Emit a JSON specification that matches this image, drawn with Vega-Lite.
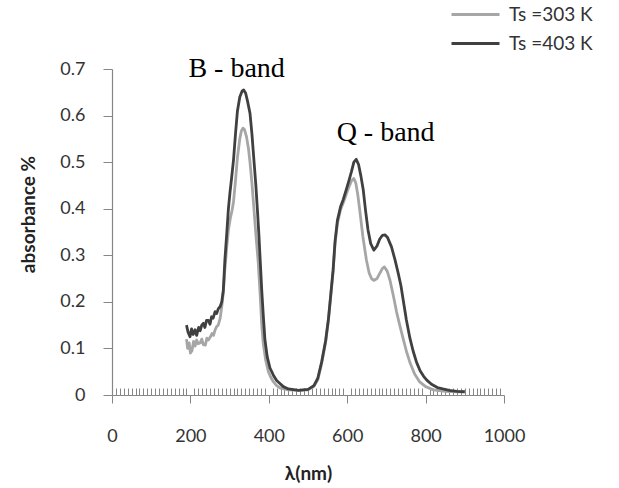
{
  "$schema": "https://vega.github.io/schema/vega-lite/v6.json",
  "width": 392,
  "height": 326,
  "autosize": {"type": "none"},
  "padding": {"left": 112, "top": 69, "right": 115, "bottom": 93},
  "background": "white",
  "config": {"view": {"stroke": null}, "font": "Lato"},
  "datasets": {
    "spectra": [
      {"s": "Ts =303 K", "wl": 190, "abs": 0.120},
      {"s": "Ts =303 K", "wl": 193, "abs": 0.100},
      {"s": "Ts =303 K", "wl": 197, "abs": 0.112},
      {"s": "Ts =303 K", "wl": 200, "abs": 0.090},
      {"s": "Ts =303 K", "wl": 204, "abs": 0.095},
      {"s": "Ts =303 K", "wl": 208, "abs": 0.115},
      {"s": "Ts =303 K", "wl": 212, "abs": 0.105},
      {"s": "Ts =303 K", "wl": 216, "abs": 0.118},
      {"s": "Ts =303 K", "wl": 220, "abs": 0.110},
      {"s": "Ts =303 K", "wl": 225, "abs": 0.112},
      {"s": "Ts =303 K", "wl": 229, "abs": 0.120},
      {"s": "Ts =303 K", "wl": 233, "abs": 0.108},
      {"s": "Ts =303 K", "wl": 238, "abs": 0.107},
      {"s": "Ts =303 K", "wl": 242, "abs": 0.122},
      {"s": "Ts =303 K", "wl": 246, "abs": 0.118},
      {"s": "Ts =303 K", "wl": 251, "abs": 0.125},
      {"s": "Ts =303 K", "wl": 255, "abs": 0.132},
      {"s": "Ts =303 K", "wl": 259, "abs": 0.128},
      {"s": "Ts =303 K", "wl": 263, "abs": 0.140},
      {"s": "Ts =303 K", "wl": 267, "abs": 0.147},
      {"s": "Ts =303 K", "wl": 271, "abs": 0.150},
      {"s": "Ts =303 K", "wl": 276, "abs": 0.165},
      {"s": "Ts =303 K", "wl": 280, "abs": 0.190},
      {"s": "Ts =303 K", "wl": 284, "abs": 0.220},
      {"s": "Ts =303 K", "wl": 288, "abs": 0.270},
      {"s": "Ts =303 K", "wl": 293, "abs": 0.320},
      {"s": "Ts =303 K", "wl": 297, "abs": 0.355},
      {"s": "Ts =303 K", "wl": 302, "abs": 0.380},
      {"s": "Ts =303 K", "wl": 306, "abs": 0.395},
      {"s": "Ts =303 K", "wl": 310, "abs": 0.415},
      {"s": "Ts =303 K", "wl": 315, "abs": 0.460},
      {"s": "Ts =303 K", "wl": 320, "abs": 0.510},
      {"s": "Ts =303 K", "wl": 326, "abs": 0.550},
      {"s": "Ts =303 K", "wl": 330, "abs": 0.567},
      {"s": "Ts =303 K", "wl": 334, "abs": 0.573},
      {"s": "Ts =303 K", "wl": 338, "abs": 0.570},
      {"s": "Ts =303 K", "wl": 343, "abs": 0.555},
      {"s": "Ts =303 K", "wl": 348, "abs": 0.530},
      {"s": "Ts =303 K", "wl": 352, "abs": 0.500},
      {"s": "Ts =303 K", "wl": 357, "abs": 0.455},
      {"s": "Ts =303 K", "wl": 362, "abs": 0.400},
      {"s": "Ts =303 K", "wl": 367, "abs": 0.345},
      {"s": "Ts =303 K", "wl": 373, "abs": 0.285},
      {"s": "Ts =303 K", "wl": 378, "abs": 0.215},
      {"s": "Ts =303 K", "wl": 382, "abs": 0.150},
      {"s": "Ts =303 K", "wl": 386, "abs": 0.110},
      {"s": "Ts =303 K", "wl": 392, "abs": 0.075},
      {"s": "Ts =303 K", "wl": 399, "abs": 0.050},
      {"s": "Ts =303 K", "wl": 405, "abs": 0.038},
      {"s": "Ts =303 K", "wl": 412, "abs": 0.028},
      {"s": "Ts =303 K", "wl": 420, "abs": 0.020},
      {"s": "Ts =303 K", "wl": 429, "abs": 0.015},
      {"s": "Ts =303 K", "wl": 450, "abs": 0.011},
      {"s": "Ts =303 K", "wl": 476, "abs": 0.010},
      {"s": "Ts =303 K", "wl": 500, "abs": 0.011},
      {"s": "Ts =303 K", "wl": 515, "abs": 0.018},
      {"s": "Ts =303 K", "wl": 525, "abs": 0.033},
      {"s": "Ts =303 K", "wl": 535, "abs": 0.068},
      {"s": "Ts =303 K", "wl": 545, "abs": 0.113},
      {"s": "Ts =303 K", "wl": 552, "abs": 0.160},
      {"s": "Ts =303 K", "wl": 558, "abs": 0.212},
      {"s": "Ts =303 K", "wl": 564, "abs": 0.265},
      {"s": "Ts =303 K", "wl": 569, "abs": 0.325},
      {"s": "Ts =303 K", "wl": 575, "abs": 0.368},
      {"s": "Ts =303 K", "wl": 583, "abs": 0.398},
      {"s": "Ts =303 K", "wl": 590, "abs": 0.413},
      {"s": "Ts =303 K", "wl": 598, "abs": 0.432},
      {"s": "Ts =303 K", "wl": 605, "abs": 0.448},
      {"s": "Ts =303 K", "wl": 611, "abs": 0.460},
      {"s": "Ts =303 K", "wl": 617, "abs": 0.465},
      {"s": "Ts =303 K", "wl": 622, "abs": 0.455},
      {"s": "Ts =303 K", "wl": 627, "abs": 0.430},
      {"s": "Ts =303 K", "wl": 632, "abs": 0.397},
      {"s": "Ts =303 K", "wl": 640, "abs": 0.340},
      {"s": "Ts =303 K", "wl": 649, "abs": 0.290},
      {"s": "Ts =303 K", "wl": 656, "abs": 0.262},
      {"s": "Ts =303 K", "wl": 662, "abs": 0.250},
      {"s": "Ts =303 K", "wl": 668, "abs": 0.246},
      {"s": "Ts =303 K", "wl": 676, "abs": 0.250},
      {"s": "Ts =303 K", "wl": 683, "abs": 0.261},
      {"s": "Ts =303 K", "wl": 690, "abs": 0.272},
      {"s": "Ts =303 K", "wl": 695, "abs": 0.275},
      {"s": "Ts =303 K", "wl": 702, "abs": 0.266},
      {"s": "Ts =303 K", "wl": 709, "abs": 0.247},
      {"s": "Ts =303 K", "wl": 718, "abs": 0.212},
      {"s": "Ts =303 K", "wl": 726, "abs": 0.178},
      {"s": "Ts =303 K", "wl": 734, "abs": 0.150},
      {"s": "Ts =303 K", "wl": 743, "abs": 0.120},
      {"s": "Ts =303 K", "wl": 751, "abs": 0.094},
      {"s": "Ts =303 K", "wl": 760, "abs": 0.070},
      {"s": "Ts =303 K", "wl": 772, "abs": 0.045},
      {"s": "Ts =303 K", "wl": 785, "abs": 0.028},
      {"s": "Ts =303 K", "wl": 800, "abs": 0.018},
      {"s": "Ts =303 K", "wl": 820, "abs": 0.011},
      {"s": "Ts =303 K", "wl": 850, "abs": 0.008},
      {"s": "Ts =303 K", "wl": 880, "abs": 0.007},
      {"s": "Ts =303 K", "wl": 900, "abs": 0.007},
      {"s": "Ts =403 K", "wl": 190, "abs": 0.150},
      {"s": "Ts =403 K", "wl": 194, "abs": 0.135},
      {"s": "Ts =403 K", "wl": 199, "abs": 0.125},
      {"s": "Ts =403 K", "wl": 203, "abs": 0.142},
      {"s": "Ts =403 K", "wl": 207, "abs": 0.130},
      {"s": "Ts =403 K", "wl": 212, "abs": 0.140},
      {"s": "Ts =403 K", "wl": 216, "abs": 0.128},
      {"s": "Ts =403 K", "wl": 221, "abs": 0.145},
      {"s": "Ts =403 K", "wl": 225, "abs": 0.138},
      {"s": "Ts =403 K", "wl": 229, "abs": 0.150},
      {"s": "Ts =403 K", "wl": 233, "abs": 0.154},
      {"s": "Ts =403 K", "wl": 237, "abs": 0.145},
      {"s": "Ts =403 K", "wl": 241, "abs": 0.160},
      {"s": "Ts =403 K", "wl": 246, "abs": 0.160},
      {"s": "Ts =403 K", "wl": 250, "abs": 0.152},
      {"s": "Ts =403 K", "wl": 254, "abs": 0.168},
      {"s": "Ts =403 K", "wl": 258, "abs": 0.165},
      {"s": "Ts =403 K", "wl": 263, "abs": 0.179},
      {"s": "Ts =403 K", "wl": 267, "abs": 0.175},
      {"s": "Ts =403 K", "wl": 271, "abs": 0.185},
      {"s": "Ts =403 K", "wl": 276, "abs": 0.190},
      {"s": "Ts =403 K", "wl": 280, "abs": 0.200},
      {"s": "Ts =403 K", "wl": 284, "abs": 0.225},
      {"s": "Ts =403 K", "wl": 288, "abs": 0.290},
      {"s": "Ts =403 K", "wl": 293, "abs": 0.350},
      {"s": "Ts =403 K", "wl": 297, "abs": 0.400},
      {"s": "Ts =403 K", "wl": 301, "abs": 0.435},
      {"s": "Ts =403 K", "wl": 305, "abs": 0.465},
      {"s": "Ts =403 K", "wl": 310, "abs": 0.505},
      {"s": "Ts =403 K", "wl": 315, "abs": 0.560},
      {"s": "Ts =403 K", "wl": 320, "abs": 0.610},
      {"s": "Ts =403 K", "wl": 326, "abs": 0.640},
      {"s": "Ts =403 K", "wl": 332, "abs": 0.653},
      {"s": "Ts =403 K", "wl": 336, "abs": 0.655},
      {"s": "Ts =403 K", "wl": 341, "abs": 0.648},
      {"s": "Ts =403 K", "wl": 346, "abs": 0.630},
      {"s": "Ts =403 K", "wl": 352, "abs": 0.605},
      {"s": "Ts =403 K", "wl": 357, "abs": 0.560},
      {"s": "Ts =403 K", "wl": 362, "abs": 0.505},
      {"s": "Ts =403 K", "wl": 367, "abs": 0.450},
      {"s": "Ts =403 K", "wl": 371, "abs": 0.397},
      {"s": "Ts =403 K", "wl": 375, "abs": 0.340},
      {"s": "Ts =403 K", "wl": 378, "abs": 0.290},
      {"s": "Ts =403 K", "wl": 382, "abs": 0.225},
      {"s": "Ts =403 K", "wl": 386, "abs": 0.170},
      {"s": "Ts =403 K", "wl": 390, "abs": 0.120},
      {"s": "Ts =403 K", "wl": 396, "abs": 0.082},
      {"s": "Ts =403 K", "wl": 403, "abs": 0.058},
      {"s": "Ts =403 K", "wl": 412, "abs": 0.042},
      {"s": "Ts =403 K", "wl": 420, "abs": 0.031},
      {"s": "Ts =403 K", "wl": 437, "abs": 0.018},
      {"s": "Ts =403 K", "wl": 450, "abs": 0.013},
      {"s": "Ts =403 K", "wl": 476, "abs": 0.010},
      {"s": "Ts =403 K", "wl": 500, "abs": 0.012},
      {"s": "Ts =403 K", "wl": 515, "abs": 0.020},
      {"s": "Ts =403 K", "wl": 525, "abs": 0.036},
      {"s": "Ts =403 K", "wl": 535, "abs": 0.072},
      {"s": "Ts =403 K", "wl": 545, "abs": 0.117},
      {"s": "Ts =403 K", "wl": 552, "abs": 0.162},
      {"s": "Ts =403 K", "wl": 558, "abs": 0.215},
      {"s": "Ts =403 K", "wl": 564, "abs": 0.268},
      {"s": "Ts =403 K", "wl": 569, "abs": 0.330},
      {"s": "Ts =403 K", "wl": 575, "abs": 0.375},
      {"s": "Ts =403 K", "wl": 583, "abs": 0.404},
      {"s": "Ts =403 K", "wl": 590, "abs": 0.420},
      {"s": "Ts =403 K", "wl": 598, "abs": 0.442},
      {"s": "Ts =403 K", "wl": 605, "abs": 0.462},
      {"s": "Ts =403 K", "wl": 611, "abs": 0.480},
      {"s": "Ts =403 K", "wl": 617, "abs": 0.500},
      {"s": "Ts =403 K", "wl": 623, "abs": 0.506},
      {"s": "Ts =403 K", "wl": 629, "abs": 0.495},
      {"s": "Ts =403 K", "wl": 635, "abs": 0.470},
      {"s": "Ts =403 K", "wl": 641, "abs": 0.440},
      {"s": "Ts =403 K", "wl": 647, "abs": 0.395},
      {"s": "Ts =403 K", "wl": 653, "abs": 0.355},
      {"s": "Ts =403 K", "wl": 660, "abs": 0.325},
      {"s": "Ts =403 K", "wl": 668, "abs": 0.311},
      {"s": "Ts =403 K", "wl": 676, "abs": 0.320},
      {"s": "Ts =403 K", "wl": 683, "abs": 0.335},
      {"s": "Ts =403 K", "wl": 690, "abs": 0.343},
      {"s": "Ts =403 K", "wl": 696, "abs": 0.344},
      {"s": "Ts =403 K", "wl": 703, "abs": 0.338},
      {"s": "Ts =403 K", "wl": 713, "abs": 0.318},
      {"s": "Ts =403 K", "wl": 722, "abs": 0.290},
      {"s": "Ts =403 K", "wl": 730, "abs": 0.262},
      {"s": "Ts =403 K", "wl": 737, "abs": 0.235},
      {"s": "Ts =403 K", "wl": 744, "abs": 0.198},
      {"s": "Ts =403 K", "wl": 751, "abs": 0.161},
      {"s": "Ts =403 K", "wl": 760, "abs": 0.122},
      {"s": "Ts =403 K", "wl": 768, "abs": 0.095},
      {"s": "Ts =403 K", "wl": 777, "abs": 0.070},
      {"s": "Ts =403 K", "wl": 786, "abs": 0.052},
      {"s": "Ts =403 K", "wl": 795, "abs": 0.040},
      {"s": "Ts =403 K", "wl": 803, "abs": 0.032},
      {"s": "Ts =403 K", "wl": 815, "abs": 0.023},
      {"s": "Ts =403 K", "wl": 830, "abs": 0.016},
      {"s": "Ts =403 K", "wl": 844, "abs": 0.013},
      {"s": "Ts =403 K", "wl": 860, "abs": 0.010},
      {"s": "Ts =403 K", "wl": 880, "abs": 0.008},
      {"s": "Ts =403 K", "wl": 900, "abs": 0.007}
    ],
    "labels": [
      {"label": "B - band", "wl": 318, "abs": 0.70},
      {"label": "Q - band", "wl": 698, "abs": 0.563}
    ]
  },
  "layer": [
    {
      "data": {"name": "spectra"},
      "mark": {"type": "line", "strokeWidth": 2.8, "strokeJoin": "round"},
      "encoding": {
        "x": {
          "field": "wl",
          "type": "quantitative",
          "scale": {"domain": [0, 1000], "nice": false},
          "axis": {
            "title": "λ(nm)",
            "titleFont": "Lato",
            "titleFontSize": 19,
            "titleFontWeight": "bold",
            "titleColor": "#222222",
            "titlePadding": 19,
            "grid": false,
            "tickCount": 100,
            "format": "d",
            "labelExpr": "datum.value % 200 === 0 ? datum.label : ''",
            "labelOverlap": false,
            "labelFlush": false,
            "labelFont": "Lato",
            "labelFontSize": 18,
            "labelColor": "#333333",
            "labelPadding": 24,
            "tickSize": {"condition": {"test": "datum.value % 200 === 0", "value": 8}, "value": -7},
            "tickColor": "#868686",
            "tickWidth": 1,
            "domainColor": "#868686",
            "domainWidth": 1.2
          }
        },
        "y": {
          "field": "abs",
          "type": "quantitative",
          "scale": {"domain": [0, 0.7], "nice": false},
          "axis": {
            "title": "absorbance %",
            "titleFont": "Lato",
            "titleFontSize": 19,
            "titleFontWeight": "bold",
            "titleColor": "#222222",
            "titlePadding": 21,
            "titleY": 145,
            "grid": false,
            "values": [0, 0.1, 0.2, 0.3, 0.4, 0.5, 0.6, 0.7],
            "format": ".1~f",
            "labelFont": "Lato",
            "labelFontSize": 18,
            "labelColor": "#333333",
            "labelPadding": 18,
            "tickSize": 9,
            "tickColor": "#868686",
            "domainColor": "#868686",
            "domainWidth": 1.2
          }
        },
        "color": {
          "field": "s",
          "type": "nominal",
          "scale": {"domain": ["Ts =303 K", "Ts =403 K"], "range": ["#a6a6a6", "#404040"]},
          "legend": {
            "title": null,
            "orient": "none",
            "legendX": 354,
            "legendY": -64,
            "symbolType": "M-4,0H4",
            "symbolStrokeWidth": 3,
            "symbolSize": 144,
            "labelFont": "Lato",
            "labelFontSize": 19,
            "labelColor": "#333333",
            "labelOffset": 24,
            "rowPadding": 9
          }
        }
      }
    },
    {
      "data": {"name": "labels"},
      "mark": {"type": "text", "font": "Liberation Serif", "fontSize": 28, "color": "#000000"},
      "encoding": {
        "x": {"field": "wl", "type": "quantitative"},
        "y": {"field": "abs", "type": "quantitative"},
        "text": {"field": "label"}
      }
    }
  ]
}
